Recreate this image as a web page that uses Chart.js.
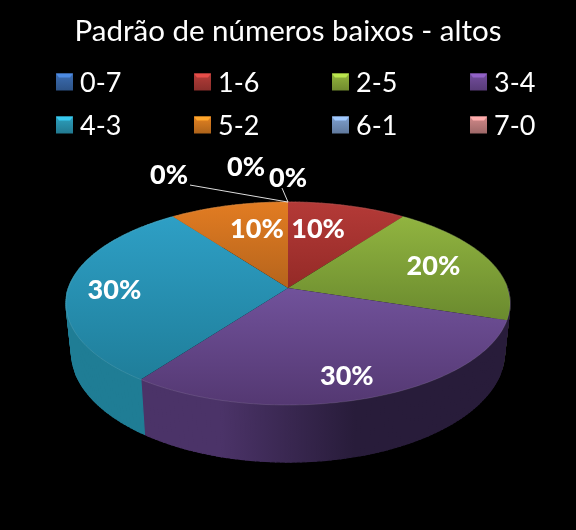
<!DOCTYPE html>
<html><head><meta charset="utf-8">
<style>html,body{margin:0;padding:0;background:#000}canvas{display:block}</style>
<script src="https://cdn.jsdelivr.net/npm/chart.js@4"></script>
</head><body><div style="width:576px;height:530px"><canvas id="c" width="576" height="530"></canvas></div>
<script>
const categories = ['0-7','1-6','2-5','3-4','4-3','5-2','6-1','7-0'];
const shares = [0,10,20,30,30,10,0,0];
const baseColors = ['#3F73BC','#C0403C','#9BC040','#7A52A6','#2FA8C8','#F08A24','#86A8DA','#DC9090'];
const faceTop = ['#3A6CB0','#B43A37','#91B440','#71529B','#2E9FC5','#E27C22','#7E9FCF','#CE8A88'];
const faceBottom = ['#2D5690','#942A27','#6A8A2E','#543872','#1F7E9A','#B5641C','#5F7EAD','#A86A68'];
const wallLeft = ['#25507F','#7E2523','#5A7526','#4B3368','#1F7D95','#8F4F14','#506E98','#8A5654'];
const wallRight = ['#1C3A60','#5A1A18','#3F521B','#281C3A','#176274','#6A3A0F','#3C5272','#66403F'];
const chartTitle = 'Padrão de números baixos - altos';

const FONT = 'Lato, Carlito, sans-serif';
const view = {cx:288, cy:288, a:219.4, b:99.1, k:0.153, wallCy:335, wallA:214, wallB:107.6};
const legendLayout = {x0:56, dx:138, rows:[82,125], box:17, gap:7};
const labelNudge = [[0,-24],[-13,1],[4,-1],[6,15],[-20,2],[12,1],[-42,-35],[-119,-27]];
const leaders = {0:[-6,-14],7:[-98,-17]};

function rgb(hex,f){const n=parseInt(hex.slice(1),16);const c=[n>>16,(n>>8)&255,n&255].map(v=>Math.min(255,Math.round(v*f)));return `rgb(${c[0]},${c[1]},${c[2]})`;}
function proj(t,f){const u=Math.sin(t)*f,v=-Math.cos(t)*f,d=1-view.k*v;return {x:view.cx+view.a*u/d,y:view.cy+view.b*v/d};}
function projWall(t){const u=Math.sin(t),v=-Math.cos(t),d=1-view.k*v;return {x:view.cx+view.wallA*u/d,y:view.wallCy+view.wallB*v/d};}
function arcPts(s,e,fn){const n=Math.max(2,Math.ceil((e-s)/0.02));const p=[];for(let i=0;i<=n;i++)p.push(fn(s+(e-s)*i/n));return p;}

const pie3d = {
  id:'pie3d',
  beforeDatasetsDraw(chart){
    const ctx=chart.ctx, arcs=chart.getDatasetMeta(0).data;
    const slices=arcs.map((a,i)=>({i,s:a.startAngle+Math.PI/2,e:a.endAngle+Math.PI/2})).filter(x=>x.e-x.s>1e-6);
    // walls, one quad per arc step so the silhouette tangents are filled
    slices.forEach(({i,s,e})=>{
      const s2=(s>Math.PI/2&&s<0.7*Math.PI)?Math.PI/2:s; // the front wall wraps the right edge
      const top=arcPts(s2,e,t=>proj(t,1)), bot=arcPts(s2,e,projWall);
      const g=ctx.createLinearGradient(66,0,510,0);
      g.addColorStop(0,wallLeft[i]);g.addColorStop(.35,wallLeft[i]);g.addColorStop(.65,wallRight[i]);g.addColorStop(1,wallRight[i]);
      ctx.fillStyle=g;ctx.strokeStyle=g;ctx.lineWidth=1.2;
      for(let j=0;j<top.length-1;j++){
        ctx.beginPath();ctx.moveTo(top[j].x,top[j].y);ctx.lineTo(top[j+1].x,top[j+1].y);
        ctx.lineTo(bot[j+1].x,bot[j+1].y);ctx.lineTo(bot[j].x,bot[j].y);ctx.closePath();
        ctx.fill();ctx.stroke();
      }
    });
    // top faces
    slices.forEach(({i,s,e})=>{
      const rim=arcPts(s,e,t=>proj(t,1));
      const ys=rim.map(p=>p.y).concat(view.cy);
      const g=ctx.createLinearGradient(0,Math.min(...ys),0,Math.max(...ys));
      g.addColorStop(0,faceTop[i]);g.addColorStop(1,faceBottom[i]);
      ctx.beginPath();ctx.moveTo(view.cx,view.cy);rim.forEach(p=>ctx.lineTo(p.x,p.y));ctx.closePath();
      ctx.fillStyle=g;ctx.fill();
      ctx.beginPath();rim.forEach((p,j)=>j?ctx.lineTo(p.x,p.y):ctx.moveTo(p.x,p.y));
      ctx.strokeStyle='rgba(255,255,255,.10)';ctx.lineWidth=1;ctx.stroke();
    });
    return false;
  },
  afterDraw(chart){
    const ctx=chart.ctx, arcs=chart.getDatasetMeta(0).data;
    ctx.save();
    ctx.font='27px '+FONT;ctx.textBaseline='middle';ctx.textAlign='left';
    categories.forEach((t,i)=>{
      const x=legendLayout.x0+(i%4)*legendLayout.dx, y=legendLayout.rows[i>>2], b=legendLayout.box, c=baseColors[i];
      const g=ctx.createLinearGradient(0,y-b/2,0,y+b/2);
      g.addColorStop(0,rgb(c,.95));g.addColorStop(1,rgb(c,.72));
      ctx.fillStyle=g;ctx.fillRect(x,y-b/2,b,b);
      ctx.fillStyle=rgb(c,1.2);ctx.beginPath();ctx.moveTo(x,y-b/2);ctx.lineTo(x+b,y-b/2);ctx.lineTo(x+b-3,y-b/2+4);ctx.lineTo(x+3,y-b/2+4);ctx.closePath();ctx.fill();
      ctx.fillStyle='#fff';ctx.fillText(t,x+b+legendLayout.gap,y+1);
    });
    ctx.font='900 27px '+FONT;ctx.textAlign='center';
    const total=shares.reduce((p,q)=>p+q,0);
    arcs.forEach((a,i)=>{
      const s=a.startAngle+Math.PI/2,e=a.endAngle+Math.PI/2;
      const anchor=proj((s+e)/2,shares[i]===0?1:.7);
      if(leaders[i]){
        ctx.strokeStyle='#ddd';ctx.lineWidth=1;ctx.beginPath();ctx.moveTo(proj(s,1).x,proj(s,1).y);
        ctx.lineTo(anchor.x+leaders[i][0],anchor.y+leaders[i][1]);ctx.stroke();
      }
    });
    arcs.forEach((a,i)=>{
      const s=a.startAngle+Math.PI/2,e=a.endAngle+Math.PI/2;
      const anchor=proj((s+e)/2,shares[i]===0?1:.7);
      ctx.fillStyle='#fff';
      ctx.fillText(Math.round(shares[i]/total*100)+'%',anchor.x+labelNudge[i][0],anchor.y+labelNudge[i][1]);
    });
    ctx.restore();
  }
};

new Chart(document.getElementById('c'),{
  type:'pie',
  data:{labels:categories,datasets:[{data:shares,backgroundColor:baseColors,borderWidth:0}]},
  options:{
    responsive:false,animation:false,
    layout:{padding:0},
    plugins:{
      legend:{display:false},tooltip:{enabled:false},
      title:{display:true,text:chartTitle,color:'#fff',font:{family:FONT,size:29.5,weight:'normal'},padding:{top:14,bottom:10}}
    }
  },
  plugins:[{id:'bg',beforeDraw(c){c.ctx.fillStyle='#000';c.ctx.fillRect(0,0,c.width,c.height);}},pie3d]
});
</script></body></html>
